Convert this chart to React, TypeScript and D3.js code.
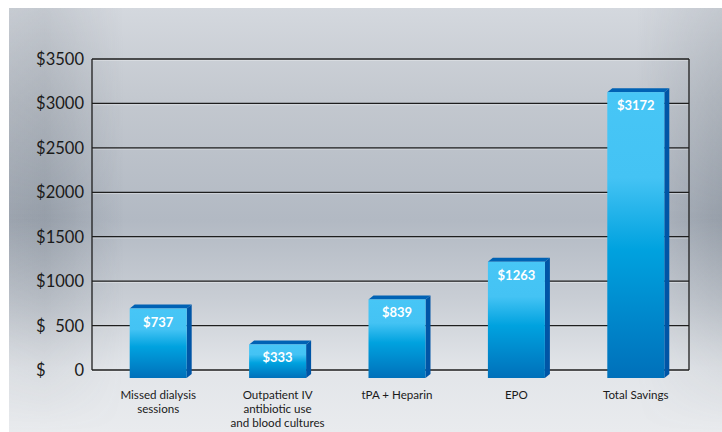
import React from "react";
import * as d3 from "d3";

const categories: string[][] = [
  ["Missed dialysis", "sessions"],
  ["Outpatient IV", "antibiotic use", "and blood cultures"],
  ["tPA + Heparin"],
  ["EPO"],
  ["Total Savings"],
];
const values = [737, 333, 839, 1263, 3172];
const valueLabels = values.map((v) => "$" + v);
const yTicks = [0, 500, 1000, 1500, 2000, 2500, 3000, 3500];
const yTickLabels = ["0", "500", "1000", "1500", "2000", "2500", "3000", "3500"];

const W = 722;
const H = 432;
const FONT = "Lato, 'Open Sans', sans-serif";

export default function App() {
  const y = d3.scaleLinear().domain([0, 3500]).range([370, 59]);
  const x = d3
    .scaleBand<number>()
    .domain(values.map((_, i) => i))
    .range([101, 698])
    .padding(0);
  const bw = x.bandwidth();
  const left = 92;
  const right = 689;
  const dx = 5;
  const dy = 4;
  const bottom = y(0) + 8;

  return (
    <div style={{ position: "absolute", left: 0, top: 0 }}>
      <svg width={W} height={H} style={{ display: "block" }}>
        <defs>
          <linearGradient id="bgV" x1="0" y1="0" x2="0" y2="1">
            <stop offset="0" stopColor="#d4d8de" />
            <stop offset="0.22" stopColor="#c3c8cf" />
            <stop offset="0.5" stopColor="#b2b9c3" />
            <stop offset="0.68" stopColor="#c8cdd4" />
            <stop offset="0.85" stopColor="#e2e5e9" />
            <stop offset="1" stopColor="#e9ebee" />
          </linearGradient>
          <linearGradient id="bgH" x1="0" y1="0" x2="1" y2="0">
            <stop offset="0" stopColor="#5c6672" stopOpacity="0.25" />
            <stop offset="0.05" stopColor="#5c6672" stopOpacity="0.32" />
            <stop offset="0.16" stopColor="#5c6672" stopOpacity="0" />
            <stop offset="0.88" stopColor="#5c6672" stopOpacity="0" />
            <stop offset="1" stopColor="#5c6672" stopOpacity="0.32" />
          </linearGradient>
          <linearGradient id="bgFade" x1="0" y1="0" x2="0" y2="1">
            <stop offset="0" stopColor="#fff" stopOpacity="0.4" />
            <stop offset="0.5" stopColor="#fff" stopOpacity="1" />
            <stop offset="0.8" stopColor="#fff" stopOpacity="0.3" />
            <stop offset="1" stopColor="#fff" stopOpacity="0" />
          </linearGradient>
          <mask id="bgMask">
            <rect x={0} y={0} width={W} height={H} fill="url(#bgFade)" />
          </mask>
          <linearGradient id="front" x1="0" y1="0" x2="0" y2="1">
            <stop offset="0" stopColor="#47c6f6" />
            <stop offset="0.3" stopColor="#44c3f4" />
            <stop offset="0.55" stopColor="#00a2df" />
            <stop offset="1" stopColor="#0070ba" />
          </linearGradient>
        </defs>
        <rect x={0} y={0} width={W} height={H} fill="#fff" />
        <rect x={9} y={8} width={W - 9} height={H - 8} fill="url(#bgV)" />
        <rect x={9} y={8} width={W - 9} height={H - 8} fill="url(#bgH)" mask="url(#bgMask)" />

        {yTicks.map((t) => (
          <g key={t}>
            <line x1={left} x2={right} y1={y(t) + 1.3} y2={y(t) + 1.3} stroke="#ffffff" strokeOpacity={0.35} strokeWidth={1} />
            <line x1={left} x2={right} y1={y(t)} y2={y(t)} stroke="#1e1e1e" strokeWidth={1.3} />
          </g>
        ))}
        <line x1={left} x2={left} y1={y(3500)} y2={y(0)} stroke="#1e1e1e" strokeWidth={1.3} />
        <line x1={right} x2={right} y1={y(3500)} y2={y(0)} stroke="#1e1e1e" strokeWidth={1.3} />

        {yTicks.map((t, i) => (
          <g key={"l" + t} fontFamily={FONT} fontSize={16.5} fill="#1a1a1a">
            <text x={36} y={y(t)} dy="0.36em" textAnchor="start">$</text>
            <text x={84} y={y(t)} dy="0.36em" textAnchor="end">{yTickLabels[i]}</text>
          </g>
        ))}

        {values.map((v, i) => {
          const c = (x(i) as number) + bw / 2;
          const x0 = c - 31;
          const x1 = c + 26;
          const top = y(v) + dy;
          return (
            <g key={i}>
              <polygon
                points={`${x1},${top} ${x1 + dx},${top - dy} ${x1 + dx},${bottom - dy} ${x1},${bottom}`}
                fill="#0055a6"
              />
              <polygon
                points={`${x0},${top} ${x0 + dx},${top - dy} ${x1 + dx},${top - dy} ${x1},${top}`}
                fill="#0062b4"
              />
              <rect x={x0} y={top} width={x1 - x0} height={bottom - top} fill="url(#front)" />
              <text
                x={(x0 + x1) / 2}
                y={top + 18}
                textAnchor="middle"
                fontFamily={FONT}
                fontWeight={700}
                fontSize={13}
                fill="#ffffff"
              >
                {valueLabels[i]}
              </text>
              <text
                x={(x0 + x1) / 2}
                y={399}
                textAnchor="middle"
                fontFamily={FONT}
                fontSize={11.6}
                fill="#1a1a1a"
              >
                {categories[i].map((line, j) => (
                  <tspan key={j} x={(x0 + x1) / 2} dy={j === 0 ? 0 : 14}>
                    {line}
                  </tspan>
                ))}
              </text>
            </g>
          );
        })}
      </svg>
    </div>
  );
}
